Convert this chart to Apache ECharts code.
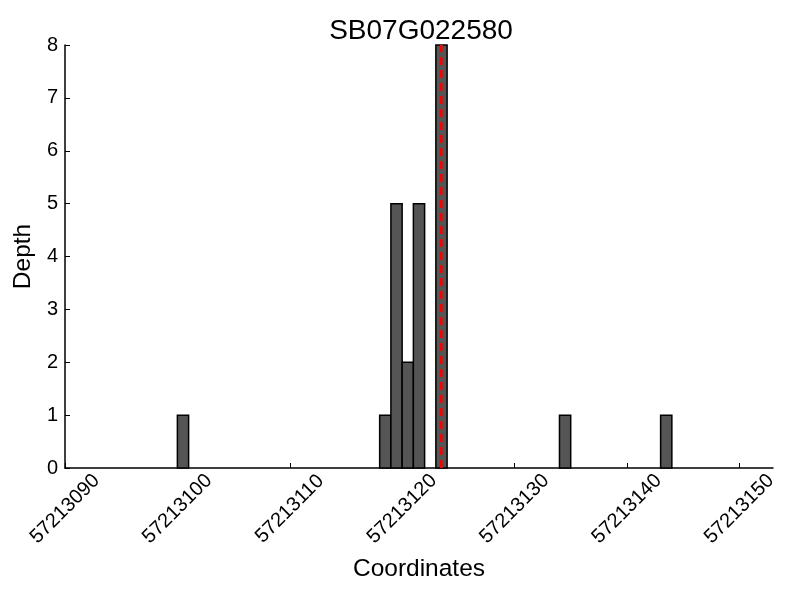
<!DOCTYPE html>
<html>
<head>
<meta charset="utf-8">
<script src="https://cdn.jsdelivr.net/npm/echarts@6/dist/echarts.min.js"></script>
<style>html,body{margin:0;padding:0;background:#fff}#c{width:800px;height:600px}</style>
</head>
<body>
<div id="c"></div>
<script>
const titleText = 'SB07G022580';
const binStarts = [57213100, 57213118, 57213119, 57213120, 57213121, 57213123, 57213134, 57213143];
const depths = [1, 1, 5, 2, 5, 8, 1, 1];
const binWidth = 1;
const markerX = [57213123.5];
const xTicks = [57213090, 57213100, 57213110, 57213120, 57213130, 57213140, 57213150];
const yTicks = [0, 1, 2, 3, 4, 5, 6, 7, 8];

const FONT = 'Liberation Sans';
const chart = echarts.init(document.getElementById('c'), null, {renderer: 'canvas'});
const data = binStarts.map((s, i) => [s, depths[i]]);

chart.setOption({
  animation: false,
  backgroundColor: '#fff',
  textStyle: {fontFamily: FONT},
  title: {
    text: titleText,
    left: 416, top: 12, textAlign: 'center',
    textStyle: {fontFamily: FONT, fontSize: 28, fontWeight: 'normal', color: '#000'}
  },
  grid: {left: 65, right: 27, top: 45, bottom: 132, containLabel: false},
  xAxis: {
    type: 'value', min: 57213090, max: 57213153, interval: 10,
    name: 'Coordinates', nameLocation: 'middle', nameGap: 89,
    nameTextStyle: {fontFamily: FONT, fontSize: 24.5, color: '#000'},
    axisLine: {show: true, onZero: false, lineStyle: {color: '#000', width: 1.5}},
    axisTick: {show: true, inside: true, length: 5, customValues: xTicks, lineStyle: {color: '#000'}},
    axisLabel: {show: true, rotate: 45, margin: 41, align: 'center', verticalAlign: 'middle',
      fontFamily: FONT, fontSize: 20, color: '#000',
      customValues: xTicks, formatter: v => String(v)},
    splitLine: {show: false}
  },
  yAxis: {
    type: 'value', min: 0, max: 8, interval: 1,
    name: 'Depth', nameLocation: 'middle', nameGap: 26,
    nameTextStyle: {fontFamily: FONT, fontSize: 24.5, color: '#000'},
    axisLine: {show: true, lineStyle: {color: '#000', width: 1.5}},
    axisTick: {show: true, inside: true, length: 5, customValues: yTicks, lineStyle: {color: '#000'}},
    axisLabel: {show: true, margin: 7, fontFamily: FONT, fontSize: 20, color: '#000',
      customValues: yTicks, formatter: v => String(v)},
    splitLine: {show: false}
  },
  series: [
    {
      type: 'custom',
      data: data,
      encode: {x: 0, y: 1},
      renderItem: function (params, api) {
        const x0 = api.value(0), v = api.value(1);
        const p0 = api.coord([x0, 0]);
        const p1 = api.coord([x0 + binWidth, v]);
        return {
          type: 'rect',
          shape: {x: p0[0], y: p1[1], width: p1[0] - p0[0], height: p0[1] - p1[1]},
          style: {fill: '#555555', stroke: '#000', lineWidth: 1.5}
        };
      }
    },
    {
      type: 'line',
      data: [[markerX[0], 0], [markerX[0], 8]],
      symbol: 'none',
      lineStyle: {color: '#ff0000', width: 3, type: [8, 5]},
      z: 5
    }
  ]
});
</script>
</body>
</html>
